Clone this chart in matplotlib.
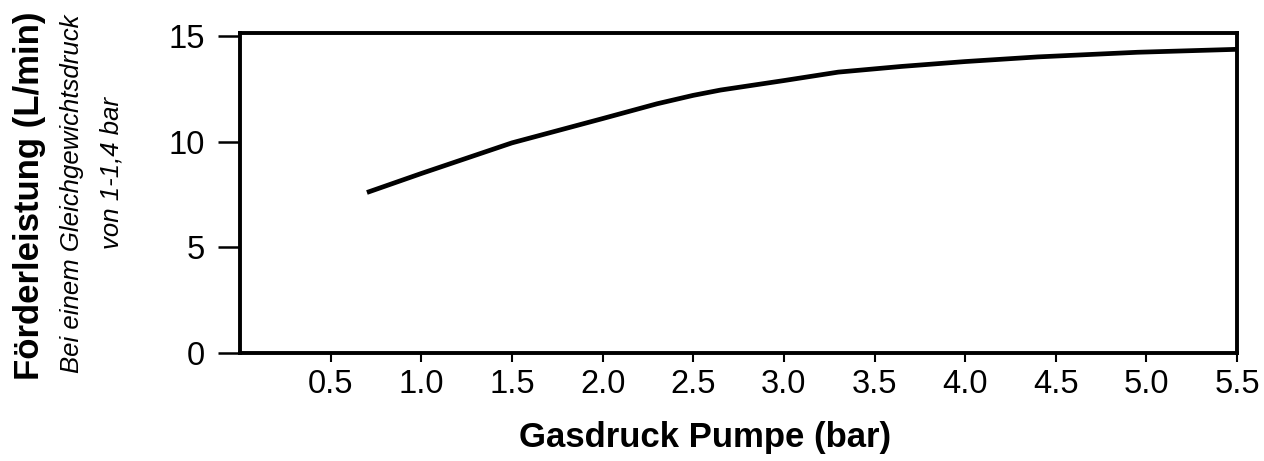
import matplotlib
matplotlib.use("Agg")
import matplotlib.pyplot as plt

# values
pressure_bar = [0.7, 1.0, 1.5, 2.0, 2.3, 2.5, 2.65, 3.0, 3.3, 3.65, 4.0, 4.4, 4.95, 5.5]
flow_lpm = [7.6, 8.5, 9.95, 11.1, 11.8, 12.2, 12.45, 12.9, 13.3, 13.57, 13.8, 14.02, 14.24, 14.38]

x_ticks = [0.5, 1.0, 1.5, 2.0, 2.5, 3.0, 3.5, 4.0, 4.5, 5.0, 5.5]
x_tick_labels = ["0.5", "1.0", "1.5", "2.0", "2.5", "3.0", "3.5", "4.0", "4.5", "5.0", "5.5"]
y_ticks = [0, 5, 10, 15]

x_label = "Gasdruck Pumpe (bar)"
y_label = "Förderleistung (L/min)"
note_line1 = "Bei einem Gleichgewichtsdruck"
note_line2 = "von 1-1,4 bar"

plt.rcParams["font.family"] = ["Liberation Sans", "DejaVu Sans"]

fig = plt.figure(figsize=(12.64, 4.61), dpi=100)
ax = fig.add_axes([0.1899, 0.2343, 0.7888, 0.694])

ax.plot(pressure_bar, flow_lpm, color="black", linewidth=3.4, solid_capstyle="butt")

ax.set_xlim(0, 5.5)
ax.set_ylim(0, 15.15)
ax.set_xticks(x_ticks)
ax.set_xticklabels(x_tick_labels)
ax.set_yticks(y_ticks)

for side in ["top", "bottom", "left", "right"]:
    ax.spines[side].set_linewidth(2.8)

ax.tick_params(axis="x", direction="out", length=6.5, width=1.5, pad=5, labelsize=23.5)
ax.tick_params(axis="y", direction="out", length=16, width=1.8, pad=9, labelsize=23.5)

fig.text(0.558, 0.030, x_label, ha="center", va="baseline",
         fontsize=25, fontweight="bold")
fig.text(0.023, 0.575, y_label, rotation=90, ha="center", va="center",
         fontsize=25, fontweight="bold")
fig.text(0.057, 0.58, note_line1, rotation=90, ha="center", va="center",
         fontsize=18.5, style="italic")
fig.text(0.088, 0.625, note_line2, rotation=90, ha="center", va="center",
         fontsize=18.5, style="italic")

fig.savefig("out.png", dpi=100)
